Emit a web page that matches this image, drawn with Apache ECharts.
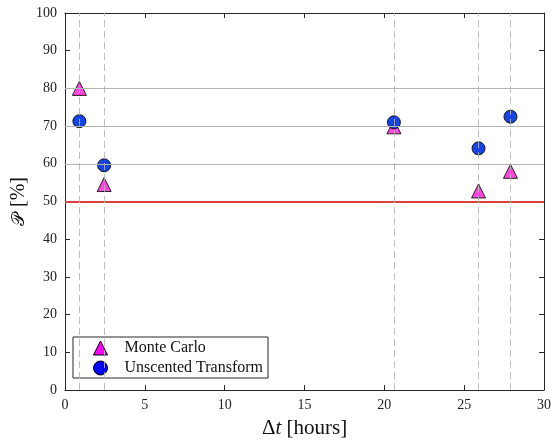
<!DOCTYPE html>
<html>
<head>
<meta charset="utf-8">
<script src="https://cdn.jsdelivr.net/npm/echarts@6/dist/echarts.min.js"></script>
<style>
  html, body { margin: 0; padding: 0; background: #fff; }
  #chart { width: 552px; height: 442px; }
</style>
</head>
<body>
<div id="chart"></div>
<script>
// Time offsets (hours) of each comparison case
const deltaT = [0.9, 2.45, 20.6, 25.9, 27.9];
// Probability estimates (%)
const monteCarlo = [80.0, 54.5, 69.8, 52.8, 58.0];
const unscented = [71.3, 59.6, 71.0, 64.1, 72.5];
// Reference levels
const refLines = [60, 70, 80];
const threshold = 50;

const FONT = 'Liberation Serif';
const axisColor = '#262626';

const chart = echarts.init(document.getElementById('chart'), null, { renderer: 'canvas' });

const pairs = (xs, ys) => xs.map((x, i) => [x, ys[i]]);

const baseAxis = {
  axisLine: { show: true, onZero: false, lineStyle: { color: axisColor, width: 1 } },
  axisTick: { show: true, inside: true, length: 5, lineStyle: { color: axisColor } },
  splitLine: { show: false },
};

chart.setOption({
  animation: false,
  backgroundColor: '#ffffff',
  grid: { left: 65, right: 8, top: 13, bottom: 52, containLabel: false, outerBoundsMode: 'none' },
  legend: {
    orient: 'vertical',
    left: 73, top: 337,
    padding: [3, 5, 2, 20],
    itemGap: 4,
    itemWidth: 14, itemHeight: 14,
    backgroundColor: '#ffffff',
    borderColor: axisColor, borderWidth: 1,
    textStyle: { fontFamily: FONT, fontSize: 16, color: '#111', padding: [0, 0, 0, 12] },
    data: [
      { name: 'Monte Carlo', icon: 'triangle', itemStyle: { color: '#ff00ff', borderColor: '#000', borderWidth: 1, opacity: 1 } },
      { name: 'Unscented Transform', icon: 'circle', itemStyle: { color: '#0000ff', borderColor: '#000', borderWidth: 1, opacity: 1 } }
    ]
  },
  xAxis: [
    Object.assign({}, baseAxis, {
      type: 'value', min: 0, max: 30, interval: 5, position: 'bottom',
      axisLabel: { fontFamily: FONT, fontSize: 14, color: '#222', margin: 8 },
      name: '{d|Δ}{t|t} {h|[hours]}',
      nameLocation: 'middle', nameGap: 28,
      nameTextStyle: {
        fontFamily: FONT, fontSize: 21, color: '#111',
        rich: {
          d: { fontFamily: FONT, fontSize: 21, color: '#111' },
          t: { fontFamily: FONT, fontSize: 21, fontStyle: 'italic', color: '#111' },
          h: { fontFamily: FONT, fontSize: 21, color: '#111' }
        }
      }
    }),
    Object.assign({}, baseAxis, {
      type: 'value', min: 0, max: 30, interval: 5, position: 'top',
      axisLabel: { show: false }
    })
  ],
  yAxis: [
    Object.assign({}, baseAxis, {
      type: 'value', min: 0, max: 100, interval: 10, position: 'left',
      axisLabel: { fontFamily: FONT, fontSize: 14, color: '#222', margin: 8 },
      name: '{p|𝒫}{s| }{b|[%]}',
      nameLocation: 'middle', nameGap: 36, nameRotate: 90, nameMoveOverlap: false,
      nameTextStyle: {
        fontFamily: FONT, fontSize: 20, color: '#111',
        rich: {
          p: { fontFamily: 'DejaVu Serif', fontSize: 18, color: '#111' },
          s: { fontFamily: FONT, fontSize: 20, width: 6 },
          b: { fontFamily: FONT, fontSize: 20, color: '#111' }
        }
      }
    }),
    Object.assign({}, baseAxis, {
      type: 'value', min: 0, max: 100, interval: 10, position: 'right',
      axisLabel: { show: false }
    })
  ],
  series: [
    {
      // Reference grid levels and the 50 % threshold
      name: 'levels', type: 'line', data: [], silent: true, z: 1,
      markLine: {
        silent: true, symbol: 'none', animation: false,
        label: { show: false },
        data: refLines.map(v => ({ yAxis: v, lineStyle: { color: '#b4b4b4', width: 1, type: 'solid' } }))
          .concat([{ yAxis: threshold, lineStyle: { color: '#e0403c', width: 2, type: 'solid' } }])
      }
    },
    {
      name: 'Monte Carlo', type: 'scatter', symbol: 'triangle', symbolSize: 14, z: 3,
      data: pairs(deltaT, monteCarlo),
      itemStyle: { color: '#ff33dd', borderColor: '#111', borderWidth: 1, opacity: 0.9 }
    },
    {
      name: 'Unscented Transform', type: 'scatter', symbol: 'circle', symbolSize: 13, z: 4,
      data: pairs(deltaT, unscented),
      itemStyle: { color: '#0a3be6', borderColor: '#111', borderWidth: 1, opacity: 0.95 }
    },
    {
      // Dashed markers at each case time
      name: 'cases', type: 'line', data: [], silent: true, z: 5,
      markLine: {
        silent: true, symbol: 'none', animation: false,
        label: { show: false },
        lineStyle: { color: '#b4b4b4', width: 1, type: [7, 4], opacity: 0.85 },
        data: deltaT.map(x => ({ xAxis: x }))
      }
    }
  ]
});
</script>
</body>
</html>
